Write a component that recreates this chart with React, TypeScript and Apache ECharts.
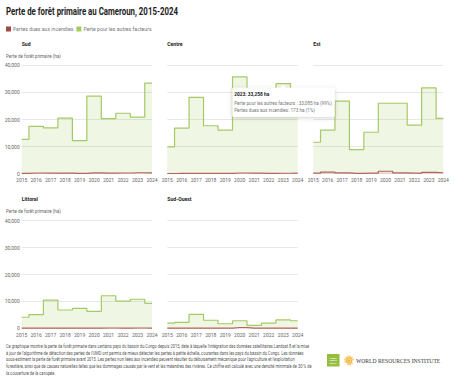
import React, { useEffect, useRef } from "react";
import * as echarts from "echarts";

const years = ["2015", "2016", "2017", "2018", "2019", "2020", "2021", "2022", "2023", "2024"];
const regionNames = ["Sud", "Centre", "Est", "Littoral", "Sud-Ouest"];
const yTicks = [0, 10000, 20000, 30000, 40000];

const sudFire = [150, 250, 200, 180, 120, 300, 200, 250, 350, 280];
const sudOther = [12550, 17250, 16700, 20320, 12080, 28300, 20100, 22050, 20550, 33120];
const centreFire = [80, 150, 120, 100, 90, 250, 200, 150, 173, 200];
const centreOther = [9820, 16650, 28080, 17600, 16010, 35450, 26300, 23850, 33085, 26800];
const estFire = [200, 600, 300, 150, 200, 900, 300, 200, 500, 350];
const estOther = [11400, 15500, 26500, 8750, 15100, 25100, 25700, 17700, 31200, 20050];
const littoralFire = [50, 80, 100, 60, 70, 80, 120, 100, 110, 90];
const littoralOther = [4050, 5020, 10400, 6740, 7330, 6220, 11980, 10000, 10690, 9210];
const sudOuestFire = [40, 60, 90, 50, 40, 300, 50, 40, 70, 50];
const sudOuestOther = [1860, 2140, 5110, 2950, 1660, 2500, 1050, 1860, 3030, 2750];

const fireByRegion = [sudFire, centreFire, estFire, littoralFire, sudOuestFire];
const otherByRegion = [sudOther, centreOther, estOther, littoralOther, sudOuestOther];

const FIRE_NAME = "Pertes dues aux incendies";
const OTHER_NAME = "Perte pour les autres facteurs";
const TITLE = "Perte de forêt primaire au Cameroun, 2015-2024";
const AXIS_NAME = "Perte de forêt primaire (ha)";
const FOOTER = [
  "Ce graphique montre la perte de forêt primaire dans certains pays du bassin du Congo depuis 2015, date à laquelle l'intégration des données satellitaires Landsat 8 et la mise",
  "à jour de l'algorithme de détection des pertes de l'UMD ont permis de mieux détecter les pertes à petite échelle, courantes dans les pays du bassin du Congo. Les données",
  "sous-estiment la perte de forêt primaire avant 2015. Les pertes non liées aux incendies peuvent résulter du déboisement mécanique pour l'agriculture et l'exploitation",
  "forestière, ainsi que de causes naturelles telles que les dommages causés par le vent et les méandres des rivières. Ce chiffre est calculé avec une densité minimale de 30 % de",
  "la couverture de la canopée.",
];
const TIP_INDEX = 8; // 2023, Centre

const FONT = "Roboto";
const GREEN_LINE = "#a5c964";
const GREEN_FILL = "rgba(151,189,61,0.2)";
const RED_LINE = "#b3655c";
const RED_FILL = "rgba(170,70,60,0.25)";

const grids = [
  { left: 21.7, top: 65.3, width: 130.3, height: 108.4 },
  { left: 167.3, top: 65.3, width: 130.4, height: 108.4 },
  { left: 313.3, top: 65.3, width: 130, height: 108.4 },
  { left: 21.7, top: 220.7, width: 130.3, height: 107.6 },
  { left: 167.3, top: 220.7, width: 130.4, height: 107.6 },
];

const fmt = (v: number) => v.toLocaleString("en-US");

export default function App() {
  const ref = useRef<HTMLDivElement>(null);
  useEffect(() => {
    document.body.style.margin = "0";
    const chart = echarts.init(ref.current!, undefined, { renderer: "svg" });
    const ctx = document.createElement("canvas").getContext("2d")!;
    const measure = (t: string, size: number, weight = "normal") => {
      ctx.font = `${weight} ${size}px ${FONT}`;
      return ctx.measureText(t).width || 1;
    };

    const series: any[] = [];
    regionNames.forEach((_, i) => {
      series.push({
        name: FIRE_NAME,
        type: "line",
        step: "middle",
        xAxisIndex: i,
        yAxisIndex: i,
        stack: "s" + i,
        symbol: "none",
        data: fireByRegion[i],
        lineStyle: { color: RED_LINE, width: 1.2 },
        itemStyle: { color: RED_LINE },
        areaStyle: { color: RED_FILL },
        z: 3,
      });
      series.push({
        name: OTHER_NAME,
        type: "line",
        step: "middle",
        xAxisIndex: i,
        yAxisIndex: i,
        stack: "s" + i,
        symbol: "none",
        data: otherByRegion[i],
        lineStyle: { color: GREEN_LINE, width: 1.2 },
        itemStyle: { color: GREEN_LINE },
        areaStyle: { color: GREEN_FILL },
        z: 2,
      });
    });

    chart.setOption({
      animation: false,
      textStyle: { fontFamily: FONT },
      legend: {
        left: 6,
        top: 26.5,
        padding: 0,
        itemWidth: 5,
        itemHeight: 5,
        itemGap: 3,
        icon: "rect",
        textStyle: { fontSize: 5.2, color: "#777", padding: [0, 0, 0, -3] },
        data: [
          { name: FIRE_NAME, itemStyle: { color: "#9c4b45" } },
          { name: OTHER_NAME, itemStyle: { color: "#a6cc5b" } },
        ],
      },
      grid: grids.map((g) => ({ ...g, containLabel: false })),
      xAxis: grids.map((_, i) => ({
        type: "category",
        gridIndex: i,
        data: years,
        boundaryGap: false,
        axisLine: { show: false },
        axisTick: { show: false },
        axisLabel: { fontSize: 5, color: "#666", margin: 4, interval: 0 },
      })),
      yAxis: grids.map((_, i) => ({
        type: "value",
        gridIndex: i,
        min: yTicks[0],
        max: yTicks[yTicks.length - 1],
        interval: 10000,
        axisLine: { show: false },
        axisTick: { show: false },
        splitLine: { lineStyle: { color: "#e8e8e8", width: 1 } },
        axisLabel: {
          show: i === 0 || i === 3,
          fontSize: 5,
          color: "#666",
          margin: 2,
          formatter: (v: number) => fmt(v),
        },
      })),
      series,
    });

    // Graphics
    const graphics: any[] = [];
    const titleScale = 172 / measure(TITLE, 10.5, "bold");
    graphics.push({
      type: "text",
      x: 6,
      y: 11,
      scaleX: titleScale,
      style: { text: TITLE, fontSize: 10.5, fontWeight: "bold", fontFamily: FONT, fill: "#222", textVerticalAlign: "middle" },
    });

    const panelTitleY = [44, 44, 44, 199.3, 199.3];
    regionNames.forEach((name, i) => {
      graphics.push({
        type: "text",
        x: grids[i].left,
        y: panelTitleY[i],
        scaleX: 0.85,
        style: { text: name, fontSize: 6, fontWeight: "bold", fontFamily: FONT, fill: "#222", textVerticalAlign: "middle" },
      });
    });
    const axisNameScale = 55 / measure(AXIS_NAME, 5.3);
    [56.3, 211].forEach((y) => {
      graphics.push({
        type: "text",
        x: 6,
        y,
        scaleX: axisNameScale,
        style: { text: AXIS_NAME, fontSize: 5.3, fontFamily: FONT, fill: "#666", textVerticalAlign: "middle" },
      });
    });

    const footScale = 304 / measure(FOOTER[0], 5);
    FOOTER.forEach((line, k) => {
      graphics.push({
        type: "text",
        x: 6,
        y: 346.3 + k * 6.75,
        scaleX: footScale,
        style: { text: line, fontSize: 5, fontFamily: FONT, fill: "#555", textVerticalAlign: "middle" },
      });
    });

    // Logos
    graphics.push({
      type: "group",
      children: [
        { type: "rect", shape: { x: 327, y: 354, width: 12.5, height: 12.5 }, style: { fill: "#97bd3d" } },
        {
          type: "text",
          x: 333.25,
          y: 360.3,
          style: {
            text: "GLOBAL\nFOREST\nWATCH",
            fontSize: 2,
            lineHeight: 2.4,
            fontFamily: FONT,
            fontWeight: "bold",
            fill: "#fff",
            textAlign: "center",
            textVerticalAlign: "middle",
          },
        },
      ],
    });
    const sun: any[] = [{ type: "circle", shape: { cx: 349, cy: 360.5, r: 1.2 }, style: { fill: "#f2a92e" } }];
    for (let k = 0; k < 8; k++) {
      const a = (k / 8) * Math.PI * 2;
      sun.push({ type: "circle", shape: { cx: 349 + Math.cos(a) * 2.5, cy: 360.5 + Math.sin(a) * 2.5, r: 1.0 }, style: { fill: "#f4b53c" } });
    }
    for (let k = 0; k < 12; k++) {
      const a = (k / 12) * Math.PI * 2 + 0.26;
      sun.push({ type: "circle", shape: { cx: 349 + Math.cos(a) * 4.1, cy: 360.5 + Math.sin(a) * 4.1, r: 0.8 }, style: { fill: "#f7c65c" } });
    }
    graphics.push({ type: "group", children: sun });
    const wri = "WORLD RESOURCES INSTITUTE";
    graphics.push({
      type: "text",
      x: 356,
      y: 360.8,
      style: {
        text: wri,
        fontSize: 5.6,
        fontFamily: "Liberation Serif",
        fill: "#333",
        textVerticalAlign: "middle",
      },
    });

    // Tooltip annotation anchored at Centre 2023 total
    const total = centreFire[TIP_INDEX] + centreOther[TIP_INDEX];
    const p = chart.convertToPixel({ xAxisIndex: 1, yAxisIndex: 1 } as any, [years[TIP_INDEX], total]) as number[];
    const ax = p[0];
    const ay = p[1];
    const bx = ax - 51;
    const by = ay + 4.3;
    const pct = (v: number) => Math.round((v / total) * 100) + "%";
    const tipLines = [
      `${OTHER_NAME} : ${fmt(centreOther[TIP_INDEX])} ha (${pct(centreOther[TIP_INDEX])})`,
      `${FIRE_NAME}: ${fmt(centreFire[TIP_INDEX])} ha (${pct(centreFire[TIP_INDEX])})`,
    ];
    const tipScale = 98 / measure(tipLines[0], 5.3);
    const TZ = 100;
    graphics.push({
      type: "group",
      z: TZ,
      children: [
        {
          type: "rect",
          z: TZ,
          shape: { x: bx, y: by, width: 102.5, height: 29, r: 1 },
          style: { fill: "#fff", shadowBlur: 4, shadowColor: "rgba(0,0,0,0.18)", shadowOffsetY: 1 },
        },
        {
          type: "polygon",
          z: TZ + 1,
          shape: { points: [[ax - 3.5, by + 0.5], [ax, by - 3], [ax + 3.5, by + 0.5]] },
          style: { fill: "#fff" },
        },
        {
          type: "text",
          z: TZ + 2,
          x: bx + 2,
          y: by + 5.7,
          scaleX: tipScale,
          style: {
            text: `${years[TIP_INDEX]}: ${fmt(total)} ha`,
            fontSize: 5.5,
            fontWeight: "bold",
            fontFamily: FONT,
            fill: "#222",
            textVerticalAlign: "middle",
          },
        },
        ...tipLines.map((t, k) => ({
          type: "text",
          z: TZ + 2,
          x: bx + 2,
          y: by + 15.3 + k * 7,
          scaleX: tipScale,
          style: { text: t, fontSize: 5.3, fontFamily: FONT, fill: "#777", textVerticalAlign: "middle" },
        })),
      ],
    });

    chart.setOption({ graphic: graphics });
    return () => chart.dispose();
  }, []);
  return <div ref={ref} style={{ position: "fixed", left: 0, top: 0, width: 455, height: 381, background: "#fff" }} />;
}
